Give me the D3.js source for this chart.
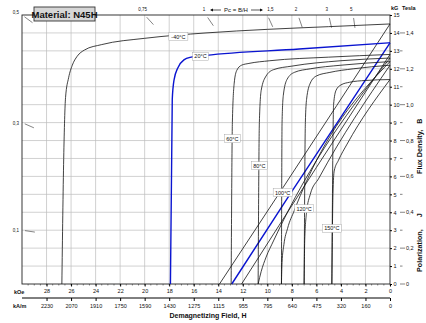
<!DOCTYPE html>
<html>
<head>
<meta charset="utf-8">
<script src="https://cdn.jsdelivr.net/npm/d3@7"></script>
<style>
body { margin: 0; background: #fff; }
text { font-family: "Liberation Sans", Arial, sans-serif; fill: #111; }
</style>
</head>
<body>
<div class="canvas"></div>
<script>
// demagnetization curves of N45H, H in kOe, J and B in kG
var temps = ['-40°C', '20°C', '60°C', '80°C', '100°C', '120°C', '150°C'];

var jM40 = [[0,14.5],[5,14.35],[10,14.2],[15,14.0],[20,13.7],[23.5,13.35],[24.9,13.05],[25.5,12.7],[25.9,12.2],[26.2,11.5],[26.45,10.4],[26.6,7],[26.75,0]];
var j20 = [[0,13.45],[7.4,13.1],[15,12.75],[16.2,12.65],[16.8,12.5],[17.3,12.05],[17.6,11.4],[17.75,10.3],[17.9,0]];
var j60 = [[0,12.8],[5,12.65],[9.8,12.45],[11.5,12.3],[12.1,12.2],[12.5,11.9],[12.7,11.2],[12.85,9],[12.95,0]];
var j80 = [[0,12.6],[4,12.45],[8,12.15],[9.5,11.95],[10.1,11.6],[10.5,10.8],[10.65,9],[10.75,0]];
var j100 = [[0,12.4],[4,12.2],[6.5,12.0],[7.8,11.8],[8.4,11.4],[8.7,10.5],[8.8,9],[8.85,0]];
var j120 = [[0,12.2],[3,12.0],[4.9,11.8],[6.0,11.6],[6.5,11.2],[6.8,10.3],[6.9,9],[7.0,0]];
var j150 = [[0,11.4],[2,11.35],[3.3,11.25],[4.0,11.1],[4.4,10.8],[4.6,10],[4.65,8],[4.74,0]];

var bM40 = [[0,14.5],[8.7,5.4],[13.9,0]];
var b20 = [[0,13.45],[8.2,4.95],[12.9,0]];
var b60 = [[0,12.8],[6,6.5],[12.1,0]];
var b80 = [[0,12.6],[9.5,2.4],[10.1,1.5],[10.5,0.7],[10.75,0]];
var b100 = [[0,12.4],[7.8,4.1],[8.35,3.1],[8.65,2.2],[8.8,1.2],[8.85,0]];
var b120 = [[0,12.2],[5.8,5.9],[6.5,5.0],[6.8,4.0],[6.95,2.5],[7.0,0]];
var b150 = [[0,11.4],[3.5,7.8],[4.2,6.9],[4.55,6.3],[4.65,5],[4.74,0]];

var jCurves = [jM40, j20, j60, j80, j100, j120, j150];
var bCurves = [bM40, b20, b60, b80, b100, b120, b150];
var labelAt = [[17.25,13.8],[15.45,12.7],[12.85,8.1],[10.65,6.6],[8.75,5.1],[7.0,4.2],[4.74,3.1]];

var kOeTicks = [28,26,24,22,20,18,16,14,12,10,8,6,4,2,0];
var kAmLabels = ['2230','2070','1910','1750','1590','1430','1275','1115','955','795','640','475','320','160','0'];
var kGTicks = d3.range(0, 16);
var teslaTicks = [0,0.2,0.4,0.6,0.8,1.0,1.2,1.4];
var teslaLabels = ['0','0,2','0,4','0,6','0,8','1,0','1,2','1,4'];
var pcValues = [0.1, 0.3, 0.5, 0.75, 1, 1.5, 2, 3, 5];
var pcLabels = ['0,1','0,3','0,5','0,75','1','1,5','2','3','5'];

var width = 426, height = 323;
var svg = d3.select('.canvas').append('svg')
    .attr('width', width)
    .attr('height', height);

var x = d3.scaleLinear().domain([30, 0]).range([22, 390]),
    y = d3.scaleLinear().domain([0, 15]).range([284, 15]);

// grid
svg.append('g').selectAll('line')
    .data(d3.range(2, 30, 2))
    .enter().append('line')
    .attr('x1', function (d) { return x(d); })
    .attr('x2', function (d) { return x(d); })
    .attr('y1', y(15)).attr('y2', y(0))
    .attr('stroke', '#bdbdbd').attr('stroke-width', 0.7);
svg.append('g').selectAll('line')
    .data(d3.range(1, 15))
    .enter().append('line')
    .attr('y1', function (d) { return y(d); })
    .attr('y2', function (d) { return y(d); })
    .attr('x1', x(30)).attr('x2', x(0))
    .attr('stroke', '#bdbdbd').attr('stroke-width', 0.7);

// frame
svg.append('rect')
    .attr('x', x(30)).attr('y', y(15))
    .attr('width', x(0) - x(30)).attr('height', y(0) - y(15))
    .attr('fill', 'none').attr('stroke', '#222').attr('stroke-width', 0.9);

// bottom axes
var minor = svg.append('g');
minor.selectAll('line').data(d3.range(0, 30, 0.5))
    .enter().append('line')
    .attr('x1', function (d) { return x(d); })
    .attr('x2', function (d) { return x(d); })
    .attr('y1', y(0)).attr('y2', y(0) + 1.5)
    .attr('stroke', '#333').attr('stroke-width', 0.6);

var kOeAxis = d3.axisBottom(x).tickValues(kOeTicks).tickSize(2.5).tickPadding(3)
    .tickFormat(d3.format('d'));
svg.append('g').attr('transform', 'translate(0,' + y(0) + ')').call(kOeAxis)
    .call(function (g) { g.select('.domain').remove(); })
    .selectAll('text').attr('font-size', 5.5).attr('font-family', '"Liberation Sans", Arial, sans-serif');

var kAmAxis = d3.axisBottom(x).tickValues(kOeTicks).tickSize(3).tickPadding(3)
    .tickFormat(function (d, i) { return kAmLabels[i]; });
svg.append('g').attr('transform', 'translate(0,298)').call(kAmAxis)
    .call(function (g) {
        g.select('.domain').attr('d', 'M' + x(30) + ',0H' + x(0));
    })
    .selectAll('text').attr('font-size', 5.5).attr('font-family', '"Liberation Sans", Arial, sans-serif');

svg.append('text').attr('x', 14).attr('y', 294).attr('font-size', 5.5)
    .attr('font-weight', 'bold').text('kOe');
svg.append('text').attr('x', 13).attr('y', 308).attr('font-size', 5.5)
    .attr('font-weight', 'bold').text('kA/m');
svg.append('text').attr('x', 208).attr('y', 318).attr('font-size', 7)
    .attr('font-weight', 'bold').attr('text-anchor', 'middle')
    .text('Demagnetizing Field, H');

// right axes
var kGAxis = d3.axisRight(y).tickValues(kGTicks).tickSize(2).tickPadding(1.5)
    .tickFormat(d3.format('d'));
svg.append('g').attr('transform', 'translate(' + x(0) + ',0)').call(kGAxis)
    .call(function (g) { g.select('.domain').remove(); })
    .selectAll('text').attr('font-size', 5.5).attr('font-family', '"Liberation Sans", Arial, sans-serif');

var t = d3.scaleLinear().domain([0, 1.5]).range([y(0), y(15)]);
svg.append('g').selectAll('line').data(d3.range(0, 15))
    .enter().append('line')
    .attr('x1', 400)
    .attr('x2', function (d) { return d % 2 === 0 ? 405 : 402.5; })
    .attr('y1', function (d) { return t(d / 10); })
    .attr('y2', function (d) { return t(d / 10); })
    .attr('stroke', '#333').attr('stroke-width', 0.6);
svg.append('g').selectAll('text').data(teslaTicks)
    .enter().append('text')
    .attr('x', 406)
    .attr('y', function (d) { return t(d) + 2; })
    .attr('font-size', 5.5)
    .text(function (d, i) { return teslaLabels[i]; });

svg.append('text').attr('x', 391).attr('y', 10).attr('font-size', 5.5)
    .attr('font-weight', 'bold').text('kG');
svg.append('text').attr('x', 402).attr('y', 10).attr('font-size', 5.5)
    .attr('font-weight', 'bold').text('Tesla');

svg.append('text')
    .attr('transform', 'translate(422,272) rotate(-90)')
    .attr('font-size', 7.2).attr('font-weight', 'bold')
    .style('white-space', 'pre')
    .text('Polarization,      J');
svg.append('text')
    .attr('transform', 'translate(422,174) rotate(-90)')
    .attr('font-size', 7.2).attr('font-weight', 'bold')
    .style('white-space', 'pre')
    .text('Flux Density,   B');

// permeance coefficient marks
var ox = x(0), oy = y(0);
pcValues.forEach(function (pc, i) {
    var h = pc * 30 <= 15 ? 30 : 15 / pc,
        b = pc * h,
        px = x(h), py = y(b),
        dx = ox - px, dy = oy - py,
        len = Math.sqrt(dx * dx + dy * dy);
    dx /= len; dy /= len;
    svg.append('line')
        .attr('x1', px + 3 * dx).attr('y1', py + 3 * dy)
        .attr('x2', px + 13 * dx).attr('y2', py + 13 * dy)
        .attr('stroke', '#333').attr('stroke-width', 0.6);
    var onLeft = h === 30;
    svg.append('text')
        .attr('x', onLeft ? px - 3 : (pc === 1.5 ? px + 3 : px - 2))
        .attr('y', onLeft ? (b === 15 ? py - 1 : py + 2) : py - 4)
        .attr('text-anchor', onLeft ? 'end' : 'middle')
        .attr('font-size', 4.5)
        .text(pcLabels[i]);
});

// Pc = B/H arrows
svg.append('text').attr('x', 236).attr('y', 12).attr('font-size', 6)
    .attr('text-anchor', 'middle').text('Pc = B/H');
var arrow = d3.line();
svg.append('path').attr('d', arrow([[221, 10], [211, 10]]))
    .attr('stroke', '#111').attr('stroke-width', 0.7);
svg.append('path').attr('d', 'M210,10 L213,8.5 L213,11.5 Z').attr('fill', '#111');
svg.append('path').attr('d', arrow([[251, 10], [262, 10]]))
    .attr('stroke', '#111').attr('stroke-width', 0.7);
svg.append('path').attr('d', 'M263,10 L260,8.5 L260,11.5 Z').attr('fill', '#111');

// curves
var line = d3.line()
    .x(function (d) { return x(d[0]); })
    .y(function (d) { return y(d[1]); })
    .curve(d3.curveMonotoneX);

function draw(curves) {
    svg.append('g').selectAll('path')
        .data(curves)
        .enter().append('path')
        .attr('d', function (d) { return line(d.slice().reverse()); })
        .attr('fill', 'none')
        .attr('stroke', function (d, i) { return i === 1 ? '#0a14d0' : '#111'; })
        .attr('stroke-width', function (d, i) { return i === 1 ? 1.4 : 0.8; });
}
draw(bCurves);
draw(jCurves);

// temperature labels
var lab = svg.append('g').selectAll('g')
    .data(temps)
    .enter().append('g')
    .attr('transform', function (d, i) {
        return 'translate(' + x(labelAt[i][0]) + ',' + y(labelAt[i][1]) + ')';
    });
lab.append('rect')
    .attr('x', function (d) { return -d.length * 1.6 - 1.5; })
    .attr('y', -4)
    .attr('width', function (d) { return d.length * 3.2 + 3; })
    .attr('height', 8)
    .attr('fill', '#fff').attr('stroke', '#999').attr('stroke-width', 0.4);
lab.append('text')
    .attr('text-anchor', 'middle').attr('y', 2)
    .attr('font-size', 5.5)
    .text(function (d) { return d; });

// material box
svg.append('rect').attr('x', 34).attr('y', 7).attr('width', 61).attr('height', 14)
    .attr('fill', '#d6d6d6').attr('stroke', '#333').attr('stroke-width', 0.9);
svg.append('text').attr('x', 64.5).attr('y', 17.5).attr('text-anchor', 'middle')
    .attr('font-size', 9.5).attr('font-weight', 'bold')
    .style('font-family', '"Liberation Sans Narrow", "Arial Narrow", "Liberation Sans", sans-serif')
    .text('Material: N45H');
</script>
</body>
</html>
